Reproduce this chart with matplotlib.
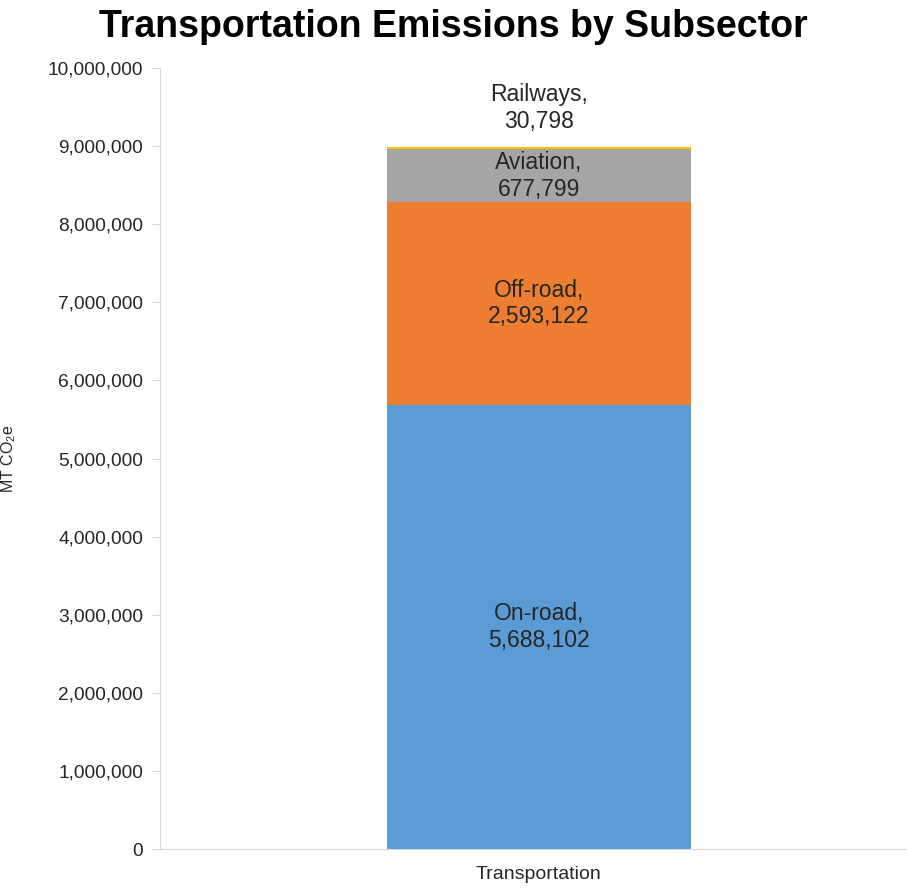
import matplotlib as mpl
import matplotlib.pyplot as plt
from matplotlib.ticker import FuncFormatter

# data
category = "Transportation"
subsectors = ["On-road", "Off-road", "Aviation", "Railways"]
values = [5688102, 2593122, 677799, 30798]
colors = ["#5B9BD5", "#ED7D31", "#A5A5A5", "#FFC000"]
y_ticks = list(range(0, 10000001, 1000000))

mpl.rcParams["font.family"] = ["Liberation Sans", "DejaVu Sans"]
mpl.rcParams["mathtext.default"] = "regular"

fig = plt.figure(figsize=(9.07, 8.9), dpi=100)
ax = fig.add_axes([160 / 907, 41 / 890, 1 - 160 / 907, 781 / 890])

bottom = 0
for name, val, col in zip(subsectors, values, colors):
    ax.bar(0, val, bottom=bottom, width=0.401, color=col)
    label = f"{name},\n{val:,}"
    if name == "Railways":
        ax.annotate(label, (0, bottom + val), xytext=(0, 28), textcoords="offset points",
                    ha="center", va="center", fontsize=16.5, color="#262626", linespacing=1.2)
    else:
        ax.text(0, bottom + val / 2, label, ha="center", va="center",
                fontsize=16.5, color="#262626", linespacing=1.2)
    bottom += val

ax.set_xlim(-0.5, 0.4855)
ax.set_ylim(0, 10000000)
ax.set_yticks(y_ticks)
ax.yaxis.set_major_formatter(FuncFormatter(lambda v, p: f"{int(v):,}"))
ax.set_xticks([0])
ax.set_xticklabels([category])
ax.tick_params(axis="y", length=6, color="#D9D9D9", labelsize=13.8, pad=6, labelcolor="#262626")
ax.tick_params(axis="x", length=0, labelsize=14, pad=12, labelcolor="#262626")

for s in ["top", "right"]:
    ax.spines[s].set_visible(False)
ax.spines["left"].set_color("#D9D9D9")
ax.spines["bottom"].set_color("#D9D9D9")

ax.set_ylabel("MT CO$_2$e", fontsize=11.5, color="#262626")
ax.yaxis.set_label_coords(-0.19, 0.5)
fig.suptitle("Transportation Emissions by Subsector", fontsize=27, fontweight="bold",
             x=0.5, y=0.99, va="top")

fig.savefig("out.png", dpi=100)
